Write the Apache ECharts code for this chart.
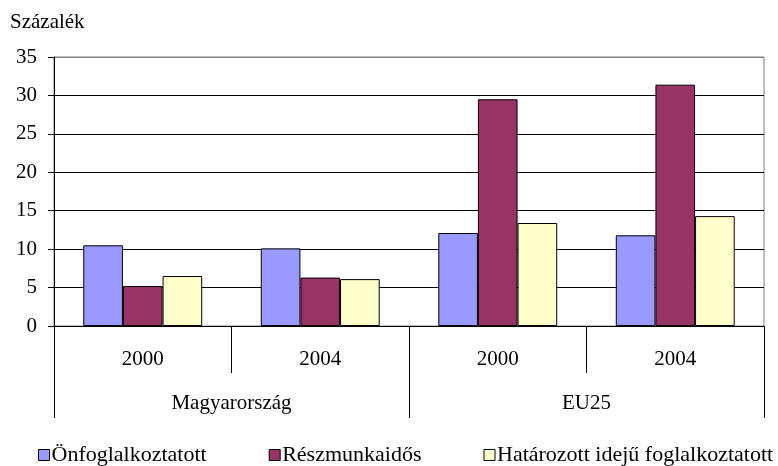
<!DOCTYPE html>
<html>
<head>
<meta charset="utf-8">
<script src="https://cdn.jsdelivr.net/npm/echarts@6/dist/echarts.min.js"></script>
<style>
  html, body { margin: 0; padding: 0; background: #fff; }
  #chart { width: 778px; height: 466px; }
</style>
</head>
<body>
<div id="chart"></div>
<script>
// --- data ---
const years = ['2000', '2004', '2000', '2004'];
const regions = ['Magyarország', 'EU25'];
const seriesNames = ['Önfoglalkoztatott', 'Részmunkaidős', 'Határozott idejű foglalkoztatott'];
const selfEmployed = [10.5, 10.1, 12.1, 11.8];
const partTime = [5.2, 6.3, 29.5, 31.4];
const fixedTerm = [6.5, 6.1, 13.4, 14.3];
const colors = ['#9999FF', '#993366', '#FFFFCC'];

const font = 'Liberation Serif, Times New Roman, serif';
const fs = 21;

const chart = echarts.init(document.getElementById('chart'));

function barSeries(name, data, color) {
  return {
    name: name,
    type: 'bar',
    xAxisIndex: 0,
    data: data,
    barGap: '0%',
    barCategoryGap: '33%',
    itemStyle: { color: color, borderColor: '#000', borderWidth: 1 },
    emphasis: { disabled: true }
  };
}

const option = {
  animation: false,
  textStyle: { fontFamily: font },
  title: {
    text: 'Százalék',
    left: 5,
    top: 7,
    textStyle: { fontFamily: font, fontSize: fs, fontWeight: 'normal', color: '#000' }
  },
  grid: {
    left: 54, right: 14, top: 57, bottom: 140,
    show: true, borderColor: '#808080', borderWidth: 1
  },
  legend: {
    left: 38,
    top: 444,
    width: 760,
    padding: 0,
    itemWidth: 11,
    itemHeight: 11,
    itemGap: 62,
    icon: 'rect',
    itemStyle: { borderColor: '#000', borderWidth: 1 },
    textStyle: { fontFamily: font, fontSize: 22, color: '#000', padding: [0, 0, 0, -3] },
    data: seriesNames
  },
  xAxis: [
    {
      type: 'category',
      data: years,
      position: 'bottom',
      axisLine: { lineStyle: { color: '#000' } },
      axisTick: { show: true, interval: 0, length: 47, lineStyle: { color: '#000' } },
      axisLabel: { interval: 0, margin: 23, fontSize: fs, color: '#000', fontFamily: font }
    },
    {
      type: 'category',
      data: regions,
      position: 'bottom',
      axisLine: { show: false },
      axisTick: { show: true, interval: 0, length: 92, lineStyle: { color: '#000' } },
      axisLabel: { interval: 0, margin: 67, fontSize: fs, color: '#000', fontFamily: font }
    }
  ],
  yAxis: {
    type: 'value',
    min: 0,
    max: 35,
    interval: 5,
    axisLine: { show: true, lineStyle: { color: '#000' } },
    axisTick: { show: true, length: 6, lineStyle: { color: '#000' } },
    axisLabel: { margin: 17, fontSize: fs, color: '#000', fontFamily: font },
    splitLine: {
      show: true,
      lineStyle: { color: ['#000', '#000', '#000', '#000', '#000', '#000', '#000', '#808080'], width: 1 }
    }
  },
  series: [
    barSeries(seriesNames[0], selfEmployed, colors[0]),
    barSeries(seriesNames[1], partTime, colors[1]),
    barSeries(seriesNames[2], fixedTerm, colors[2])
  ]
};

chart.setOption(option);
</script>
</body>
</html>
